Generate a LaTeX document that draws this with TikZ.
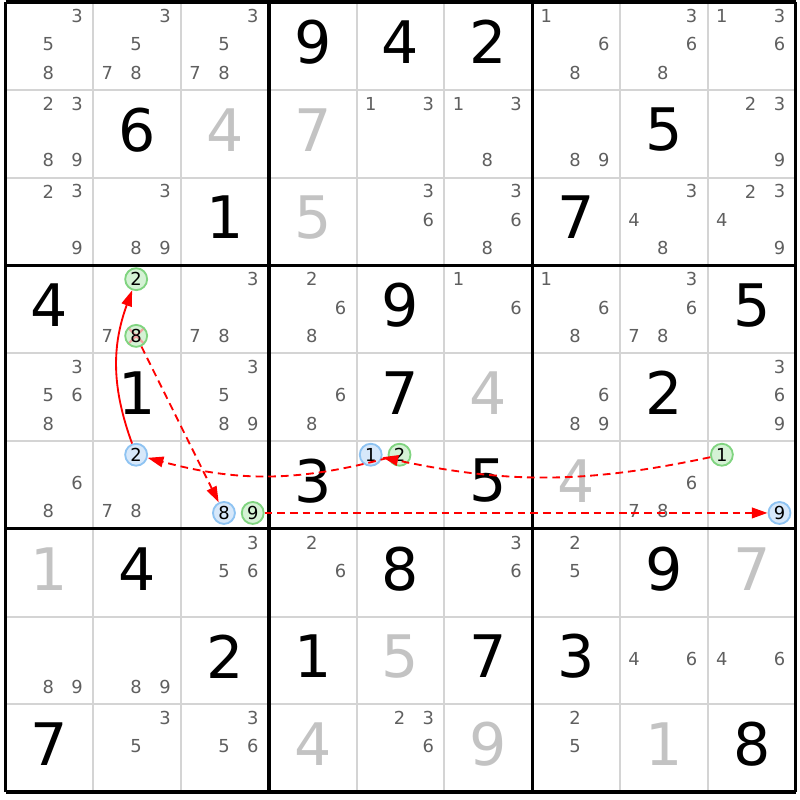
\documentclass[tikz,border=0pt]{standalone}
\usepackage{fontspec}
\setmainfont{DejaVu Sans}
\usepackage{tikz}
\usetikzlibrary{arrows.meta}
\definecolor{candgray}{HTML}{5F5F5F}
\definecolor{solvedgray}{HTML}{C3C3C3}
\definecolor{gridgray}{HTML}{D4D4D4}
\definecolor{ongreen}{HTML}{D5F2D5}
\definecolor{ongreenline}{HTML}{80D480}
\definecolor{offblue}{HTML}{D7E8FA}
\definecolor{offblueline}{HTML}{8EC3F2}
\definecolor{linkred}{HTML}{FF0000}
\definecolor{crosspink}{HTML}{F0A0A0}

\begin{document}
\begin{tikzpicture}[
gridline/.style={draw=gridgray, line width=0.65pt},
boxline/.style={draw=black, line width=1.05pt},
given/.style={inner sep=0pt, font=\fontsize{19}{19}\selectfont},
solved/.style={given, text=solvedgray},
cand/.style={inner sep=0pt, text=candgray},
hcand/.style={circle, inner sep=0pt, minimum size=2.5mm, line width=0.6pt},
oncand/.style={hcand, draw=ongreenline, fill=ongreen},
offcand/.style={hcand, draw=offblueline, fill=offblue},
link/.style={draw=linkred, line width=0.6pt, -{Triangle[length=1.8mm,width=1.2mm]}},
weaklink/.style={link, dash pattern=on 2.5pt off 1.6pt}]
\tikzstyle{every node}=[font=\fontsize{5.8}{6}\selectfont]
\useasboundingbox (-0.063,0.023) rectangle (9.05,-9.09);

% grid
\foreach \i in {1,2,4,5,7,8} {
  \draw[gridline] (\i,0) -- (\i,-9);
  \draw[gridline] (0,-\i) -- (9,-\i);
}
\foreach \i in {0,3,6,9} {
  \draw[boxline] (\i,0) -- (\i,-9);
  \draw[boxline] (0,-\i) -- (9,-\i);
}

% givens and solved cells
\foreach \r/\c/\v in {1/4/9, 1/5/4, 1/6/2, 2/2/6, 2/8/5, 3/3/1, 3/7/7, 4/1/4, 4/5/9, 4/9/5,
  5/2/1, 5/5/7, 5/8/2, 6/4/3, 6/6/5, 7/2/4, 7/5/8, 7/8/9, 8/3/2, 8/4/1, 8/6/7, 8/7/3, 9/1/7, 9/9/8}
  \node[given] (g\r\c) at ({\c-0.5},{-\r+0.545}) {\v};
\foreach \r/\c/\v in {2/3/4, 2/4/7, 3/4/5, 5/6/4, 6/7/4, 7/1/1, 7/9/7, 8/5/5, 9/4/4, 9/6/9, 9/8/1}
  \node[solved] (g\r\c) at ({\c-0.5},{-\r+0.545}) {\v};

% candidates
\foreach \r/\c/\ds in {1/1/{3,5,8}, 1/2/{3,5,7,8}, 1/3/{3,5,7,8}, 1/7/{1,6,8}, 1/8/{3,6,8}, 1/9/{1,3,6},
  2/1/{2,3,8,9}, 2/5/{1,3}, 2/6/{1,3,8}, 2/7/{8,9}, 2/9/{2,3,9},
  3/1/{2,3,9}, 3/2/{3,8,9}, 3/5/{3,6}, 3/6/{3,6,8}, 3/8/{3,4,8}, 3/9/{2,3,4,9},
  4/2/{7}, 4/3/{3,7,8}, 4/4/{2,6,8}, 4/6/{1,6}, 4/7/{1,6,8}, 4/8/{3,6,7,8},
  5/1/{3,5,6,8}, 5/3/{3,5,8,9}, 5/4/{6,8}, 5/7/{6,8,9}, 5/9/{3,6,9},
  6/1/{6,8}, 6/2/{7,8}, 6/8/{6,7,8},
  7/3/{3,5,6}, 7/4/{2,6}, 7/6/{3,6}, 7/7/{2,5},
  8/1/{8,9}, 8/2/{8,9}, 8/8/{4,6}, 8/9/{4,6},
  9/2/{3,5}, 9/3/{3,5,6}, 9/5/{2,3,6}, 9/7/{2,5}}
  \foreach \d in \ds
    \node[cand] (n\r\c\d) at ({\c-0.84+0.328*mod(\d-1,3)},{-\r+0.843-0.323*floor((\d-1)/3)}) {\d};

% chain
\node[oncand] (n422) at (1.488,-3.157) {2};
\node[oncand, path picture={\draw[crosspink, line width=0.7pt]
  (path picture bounding box.north west) -- (path picture bounding box.south east)
  (path picture bounding box.north east) -- (path picture bounding box.south west);}] (n428) at (1.488,-3.803) {8};
\node[offcand] (n622) at (1.488,-5.157) {2};
\node[offcand] (n638) at (2.488,-5.82) {8};
\node[oncand] (n639) at (2.816,-5.82) {9};
\node[offcand] (n651) at (4.16,-5.157) {1};
\node[oncand] (n652) at (4.488,-5.157) {2};
\node[oncand] (n691) at (8.16,-5.157) {1};
\node[offcand] (n699) at (8.816,-5.82) {9};

\draw[link] (n622) to[bend left=20] (n422);
\draw[weaklink] (n428) -- (n638);
\draw[weaklink, line width=0.8pt] (n639) -- (n699);
\draw[weaklink] (n691) to[bend left=12] (n651);
\draw[weaklink] (n652) to[bend left=15] (n622);
\end{tikzpicture}
\end{document}
